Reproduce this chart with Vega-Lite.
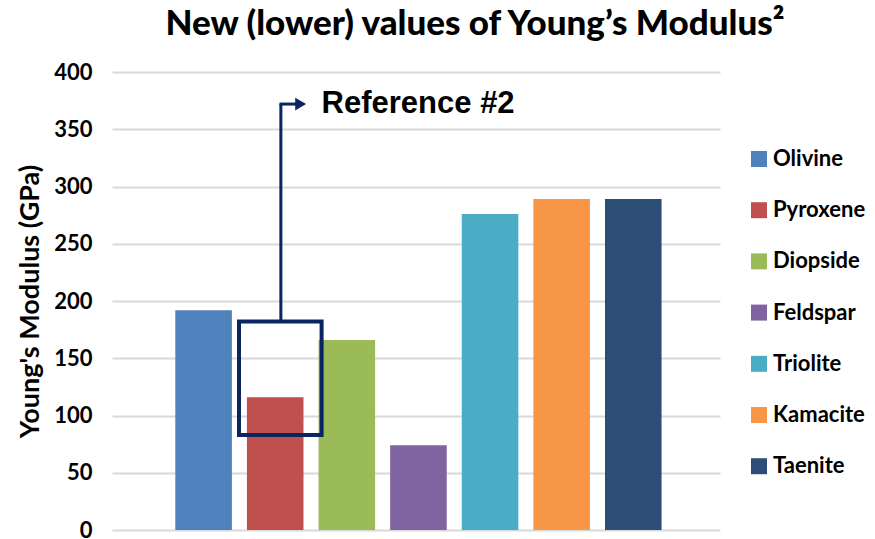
{
  "$schema": "https://vega.github.io/schema/vega-lite/v6.json",
  "width": 608,
  "height": 458,
  "autosize": {"type": "none"},
  "padding": {"left": 112, "top": 72, "right": 155, "bottom": 9},
  "background": "white",
  "title": {
    "text": "New (lower) values of Young’s Modulus²",
    "font": "Lato",
    "fontSize": 35,
    "fontWeight": 900,
    "color": "black",
    "anchor": "middle",
    "dx": 59,
    "offset": 19
  },
  "datasets": {
    "bars": [
      {"mineral": "Olivine", "modulus": 192},
      {"mineral": "Pyroxene", "modulus": 116},
      {"mineral": "Diopside", "modulus": 166},
      {"mineral": "Feldspar", "modulus": 74},
      {"mineral": "Triolite", "modulus": 276},
      {"mineral": "Kamacite", "modulus": 289},
      {"mineral": "Taenite", "modulus": 289}
    ],
    "note": [
      {"mineral": "Pyroxene", "boxLow": 83, "boxHigh": 182, "arrowTop": 372, "label": "Reference #2"}
    ]
  },
  "config": {
    "view": {"stroke": null},
    "axis": {"labelColor": "black", "titleColor": "black"}
  },
  "layer": [
    {
      "data": {"name": "bars"},
      "mark": {"type": "bar"},
      "encoding": {
        "x": {
          "field": "mineral",
          "type": "nominal",
          "sort": ["Olivine", "Pyroxene", "Diopside", "Feldspar", "Triolite", "Kamacite", "Taenite"],
          "scale": {"paddingInner": 0.21, "paddingOuter": 0.85, "align": 0.52},
          "axis": null
        },
        "y": {
          "field": "modulus",
          "type": "quantitative",
          "scale": {"domain": [0, 400], "nice": false},
          "axis": {
            "values": [0, 50, 100, 150, 200, 250, 300, 350, 400],
            "title": "Young's Modulus  (GPa)",
            "titleFont": "Lato",
            "titleFontSize": 27,
            "titleFontWeight": "bold",
            "titlePadding": 9,
            "labelFont": "Lato",
            "labelFontSize": 22,
            "labelFontWeight": "bold",
            "labelPadding": 20,
            "domain": false,
            "ticks": false,
            "gridColor": "#d9d9d9",
            "gridWidth": 2
          }
        },
        "color": {
          "field": "mineral",
          "type": "nominal",
          "sort": ["Olivine", "Pyroxene", "Diopside", "Feldspar", "Triolite", "Kamacite", "Taenite"],
          "scale": {
            "domain": ["Olivine", "Pyroxene", "Diopside", "Feldspar", "Triolite", "Kamacite", "Taenite"],
            "range": ["#4F81BD", "#C0504D", "#9BBB59", "#8064A2", "#4BACC6", "#F79646", "#2C4D75"]
          },
          "legend": {
            "title": null,
            "orient": "none",
            "legendX": 636,
            "legendY": 76,
            "symbolType": "square",
            "symbolSize": 256,
            "symbolStrokeWidth": 0,
            "labelFont": "Lato",
            "labelFontSize": 22,
            "labelFontWeight": "bold",
            "labelColor": "black",
            "labelOffset": 3,
            "rowPadding": 29.2
          }
        }
      }
    },
    {
      "data": {"name": "note"},
      "mark": {"type": "rect", "fill": null, "filled": false, "stroke": "#0B2462", "strokeWidth": 4},
      "encoding": {
        "x": {"field": "mineral", "type": "nominal", "sort": ["Olivine", "Pyroxene", "Diopside", "Feldspar", "Triolite", "Kamacite", "Taenite"], "bandPosition": -0.14},
        "x2": {"field": "mineral", "bandPosition": 1.32},
        "y": {"field": "boxLow", "type": "quantitative"},
        "y2": {"field": "boxHigh"}
      }
    },
    {
      "data": {"name": "note"},
      "mark": {"type": "rule", "stroke": "#0B2462", "strokeWidth": 3},
      "encoding": {
        "x": {"field": "mineral", "type": "nominal", "sort": ["Olivine", "Pyroxene", "Diopside", "Feldspar", "Triolite", "Kamacite", "Taenite"], "bandPosition": 0.6},
        "y": {"field": "boxHigh", "type": "quantitative"},
        "y2": {"field": "arrowTop"}
      }
    },
    {
      "data": {"name": "note"},
      "mark": {"type": "rule", "stroke": "#0B2462", "strokeWidth": 3},
      "encoding": {
        "x": {"field": "mineral", "type": "nominal", "sort": ["Olivine", "Pyroxene", "Diopside", "Feldspar", "Triolite", "Kamacite", "Taenite"], "bandPosition": 0.575},
        "x2": {"field": "mineral", "bandPosition": 0.9},
        "y": {"field": "arrowTop", "type": "quantitative"}
      }
    },
    {
      "data": {"name": "note"},
      "mark": {"type": "point", "shape": "triangle-right", "filled": true, "fill": "#0B2462", "size": 160, "opacity": 1},
      "encoding": {
        "x": {"field": "mineral", "type": "nominal", "sort": ["Olivine", "Pyroxene", "Diopside", "Feldspar", "Triolite", "Kamacite", "Taenite"], "bandPosition": 0.95},
        "y": {"field": "arrowTop", "type": "quantitative"}
      }
    },
    {
      "data": {"name": "note"},
      "mark": {"type": "text", "align": "left", "baseline": "middle", "font": "Liberation Sans", "fontSize": 31, "fontWeight": "bold", "color": "black"},
      "encoding": {
        "x": {"field": "mineral", "type": "nominal", "sort": ["Olivine", "Pyroxene", "Diopside", "Feldspar", "Triolite", "Kamacite", "Taenite"], "bandPosition": 1.32},
        "y": {"field": "arrowTop", "type": "quantitative"},
        "text": {"field": "label"}
      }
    }
  ]
}
